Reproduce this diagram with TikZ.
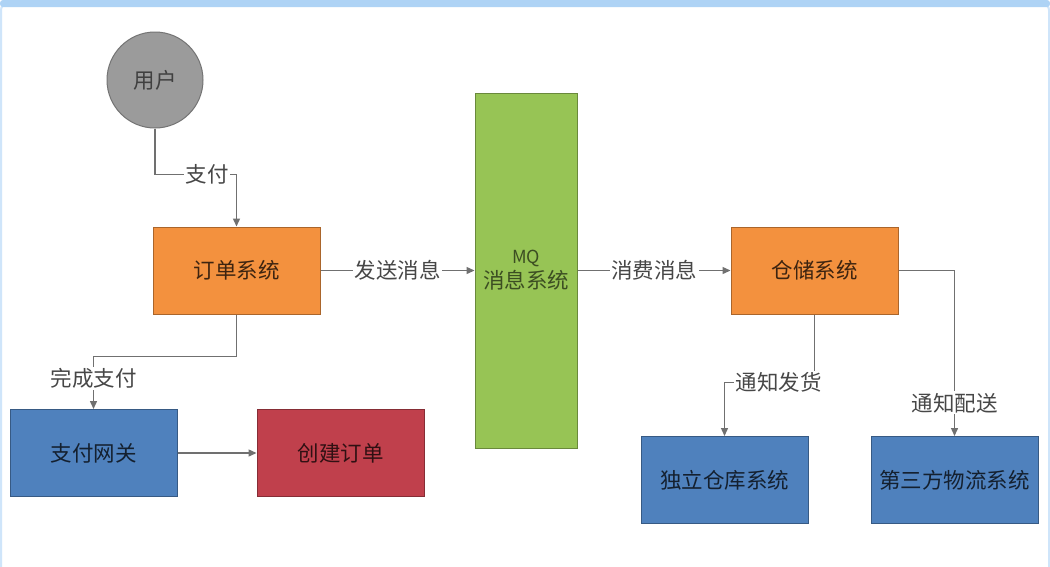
\documentclass[tikz,border=0pt]{standalone}
\usepackage{fontspec}
\setmainfont{Noto Sans CJK SC}
\usetikzlibrary{arrows.meta}
\definecolor{userfill}{HTML}{9B9B9B}
\definecolor{orangefill}{HTML}{F3913E}
\definecolor{greenfill}{HTML}{97C455}
\definecolor{bluefill}{HTML}{4F81BD}
\definecolor{redfill}{HTML}{C0404C}
\definecolor{linkgray}{HTML}{707070}
\definecolor{framebar}{HTML}{AED3F5}
\definecolor{frameline}{HTML}{CFE5FA}
\tikzset{
  box/.style={draw=#1!70!black, fill=#1, text=#1!25!black, line width=1pt,
    minimum width=167pt, minimum height=87pt, inner sep=0pt,
    font=\fontsize{21.5}{25}\selectfont},
  link/.style={draw=linkgray, line width=1.4pt, -{Triangle[length=8pt,width=7pt]}},
  lbl/.style={fill=white, text=black!72, inner sep=1.5pt, font=\fontsize{21.5}{25}\selectfont}
}
\begin{document}
\begin{tikzpicture}[x=1pt, y=-1pt]
  \useasboundingbox (0,0) rectangle (1050,566);
  % window frame
  \draw[frameline, fill=white, line width=2pt, rounded corners=6pt] (1,4) rectangle (1049,580);
  \fill[framebar, rounded corners=3pt] (0,0) rectangle (1050,7);
  % nodes
  \node[circle, draw=userfill!75!black, fill=userfill, text=black!75, line width=1pt,
    minimum size=96pt, inner sep=0pt, font=\fontsize{21.5}{25}\selectfont] (user) at (155,80) {用户};
  \node[box=orangefill] (order) at (236.5,270.5) {订单系统};
  \node[box=bluefill] (paygate) at (93.5,453) {支付网关};
  \node[box=redfill] (create) at (340.5,453) {创建订单};
  \node[box=greenfill, text=greenfill!40!black, minimum width=102pt, minimum height=355pt,
    align=center] (mq) at (526,270.5) {{\fontsize{18}{21}\selectfont MQ}\\消息系统};
  \node[box=orangefill] (storage) at (814.5,270.5) {仓储系统};
  \node[box=bluefill] (depot) at (724.5,480) {独立仓库系统};
  \node[box=bluefill] (logistics) at (954.5,480) {第三方物流系统};
  % connectors
  \draw[link] (user.south) -- ++(0,46) -| node[lbl, pos=0.32] {支付} (order.north);
  \draw[link] (order.east) -- node[lbl] {发送消息} (mq.west |- order.east);
  \draw[link] (mq.east |- storage.west) -- node[lbl] {消费消息} (storage.west);
  \draw[link] (order.south) -- ++(0,42) -| node[lbl, pos=0.71] {完成支付} (paygate.north);
  \draw[link] (paygate.east) -- (create.west);
  \draw[link] (storage.south) -- ++(0,68) -| node[lbl, pos=0.2] {通知发货} (depot.north);
  \draw[link] (storage.east) -| node[lbl, pos=0.9] {通知配送} (logistics.north);
\end{tikzpicture}
\end{document}
